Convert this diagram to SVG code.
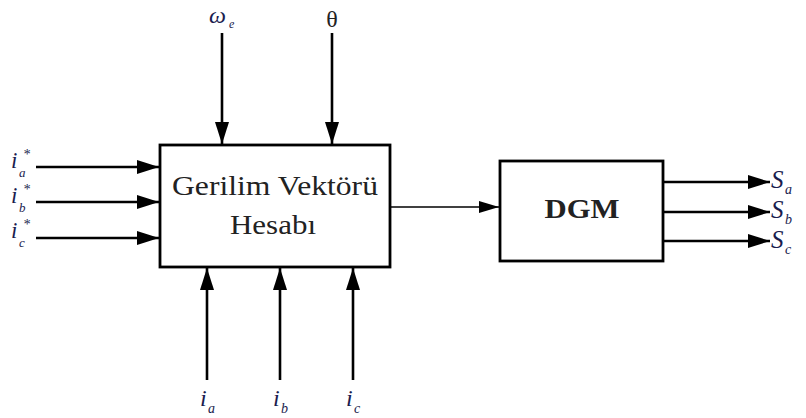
<svg xmlns="http://www.w3.org/2000/svg" width="806" height="418" viewBox="0 0 806 418">
<defs>
<marker id="ah" viewBox="0 0 22 14" refX="22" refY="7" markerWidth="22" markerHeight="14" markerUnits="userSpaceOnUse" orient="auto">
<path d="M0,0 L22,7 L0,14 Z" fill="#000"/>
</marker>
<marker id="ahs" viewBox="0 0 20 12" refX="20" refY="6" markerWidth="20" markerHeight="12" markerUnits="userSpaceOnUse" orient="auto">
<path d="M0,0 L20,6 L0,12 Z" fill="#000"/>
</marker>
</defs>
<style>
.box{fill:#fff;stroke:#000;stroke-width:2.8}
.thick{stroke:#000;stroke-width:2.6;fill:none;marker-end:url(#ah)}
.thin{stroke:#000;stroke-width:1.4;fill:none;marker-end:url(#ahs)}
.lbl{font-family:"Liberation Serif","Times New Roman",serif;font-style:italic;fill:#1a1c4e}
.main{font-family:"Liberation Serif","Times New Roman",serif;fill:#222}
</style>
<rect width="806" height="418" fill="#fff"/>
<g id="connectors">
<line class="thick" x1="222" y1="33" x2="222" y2="144"/>
<line class="thick" x1="332" y1="33" x2="332" y2="144"/>
<line class="thick" x1="36" y1="167" x2="159" y2="167"/>
<line class="thick" x1="36" y1="202" x2="159" y2="202"/>
<line class="thick" x1="36" y1="238" x2="159" y2="238"/>
<line class="thick" x1="207" y1="380" x2="207" y2="268"/>
<line class="thick" x1="280" y1="380" x2="280" y2="268"/>
<line class="thick" x1="353" y1="380" x2="353" y2="268"/>
<line class="thin" x1="390" y1="207" x2="499" y2="207"/>
<line class="thick" x1="663" y1="182" x2="770" y2="182"/>
<line class="thick" x1="663" y1="212" x2="770" y2="212"/>
<line class="thick" x1="663" y1="241" x2="770" y2="241"/>
</g>
<g id="node-gerilim">
<rect class="box" x="160" y="145" width="230" height="122"/>
<text class="main" x="275" y="195" font-size="27" text-anchor="middle" textLength="206" lengthAdjust="spacingAndGlyphs">Gerilim Vektörü</text>
<text class="main" x="273" y="234" font-size="27" text-anchor="middle" textLength="86" lengthAdjust="spacingAndGlyphs">Hesabı</text>
</g>
<g id="node-dgm">
<rect class="box" x="500" y="161" width="163" height="100"/>
<text class="main" x="582" y="218" font-size="27" font-weight="bold" text-anchor="middle" textLength="75" lengthAdjust="spacingAndGlyphs">DGM</text>
</g>
<g id="label-we">
<text class="lbl" x="209" y="23" font-size="24">ω</text>
<text class="lbl" x="229" y="28" font-size="12">e</text>
</g>
<g id="label-theta">
<text x="332" y="27" font-size="24" text-anchor="middle" font-family="Liberation Serif, Times New Roman, serif" fill="#222">θ</text>
</g>
<g id="label-ia-star">
<text class="lbl" x="11" y="168" font-size="23">i</text>
<text class="lbl" x="19" y="177" font-size="13">a</text>
<text class="lbl" x="23" y="159" font-size="14">*</text>
</g>
<g id="label-ib-star">
<text class="lbl" x="11" y="203" font-size="23">i</text>
<text class="lbl" x="19" y="212" font-size="13">b</text>
<text class="lbl" x="23" y="194" font-size="14">*</text>
</g>
<g id="label-ic-star">
<text class="lbl" x="11" y="238" font-size="23">i</text>
<text class="lbl" x="19" y="247" font-size="13">c</text>
<text class="lbl" x="23" y="229" font-size="14">*</text>
</g>
<g id="label-ia">
<text class="lbl" x="200" y="406" font-size="24">i</text>
<text class="lbl" x="208" y="413" font-size="14">a</text>
</g>
<g id="label-ib">
<text class="lbl" x="273" y="406" font-size="24">i</text>
<text class="lbl" x="281" y="413" font-size="14">b</text>
</g>
<g id="label-ic">
<text class="lbl" x="346" y="406" font-size="24">i</text>
<text class="lbl" x="354" y="413" font-size="14">c</text>
</g>
<g id="label-sa">
<text class="lbl" x="771" y="188" font-size="25">S</text>
<text class="lbl" x="785" y="194" font-size="14">a</text>
</g>
<g id="label-sb">
<text class="lbl" x="771" y="218" font-size="25">S</text>
<text class="lbl" x="785" y="224" font-size="14">b</text>
</g>
<g id="label-sc">
<text class="lbl" x="771" y="248" font-size="25">S</text>
<text class="lbl" x="785" y="254" font-size="14">c</text>
</g>
</svg>
